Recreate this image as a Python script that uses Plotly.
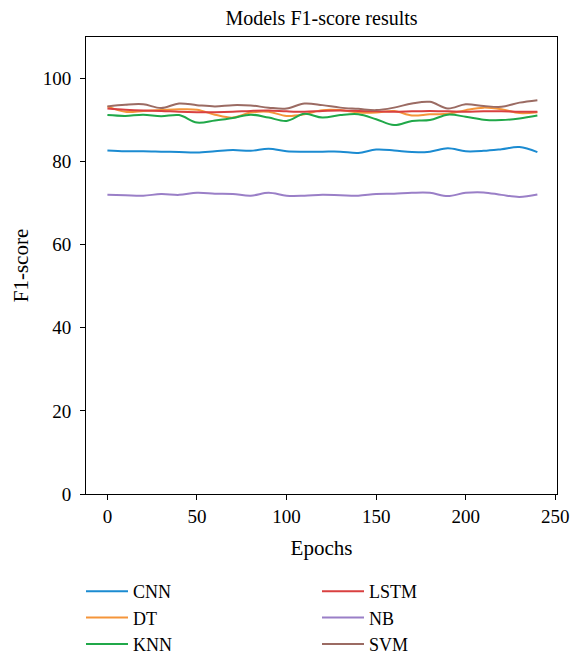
import plotly.graph_objects as go

# Epochs at which the F1-scores are recorded
epochs = [0, 10, 20, 30, 40, 50, 60, 70, 80, 90, 100, 110, 120,
          130, 140, 150, 160, 170, 180, 190, 200, 210, 220, 230, 240]

cnn = [82.7, 82.5, 82.5, 82.4, 82.3, 82.2, 82.5, 82.8, 82.6, 83.1, 82.5, 82.4, 82.4,
       82.4, 82.1, 82.9, 82.7, 82.3, 82.4, 83.2, 82.5, 82.6, 83.0, 83.5, 82.3]
dt = [93.3, 92.0, 92.2, 92.4, 92.6, 92.5, 91.3, 90.6, 91.8, 92.0, 91.0, 91.4, 92.4,
      92.4, 91.8, 91.8, 92.2, 91.1, 91.4, 91.5, 92.4, 93.0, 92.6, 91.7, 91.9]
knn = [91.2, 91.0, 91.3, 90.9, 91.2, 89.4, 89.9, 90.5, 91.3, 90.6, 89.8, 91.5, 90.6,
       91.2, 91.4, 90.2, 88.8, 89.8, 90.0, 91.3, 90.8, 90.1, 90.0, 90.4, 91.1]
lstm = [92.8, 92.5, 92.3, 92.2, 92.0, 91.9, 91.9, 92.0, 92.2, 92.3, 92.1, 92.0, 92.2,
        92.3, 92.2, 92.1, 92.0, 92.1, 92.2, 92.1, 92.0, 92.1, 92.1, 92.0, 92.0]
nb = [72.0, 71.9, 71.8, 72.2, 72.0, 72.5, 72.3, 72.2, 71.8, 72.5, 71.8, 71.8, 72.0,
      71.9, 71.8, 72.2, 72.3, 72.5, 72.5, 71.7, 72.5, 72.6, 72.0, 71.5, 72.1]
svm = [93.3, 93.7, 93.8, 92.9, 94.0, 93.6, 93.3, 93.6, 93.5, 93.0, 92.8, 94.0, 93.6,
       93.0, 92.7, 92.4, 93.0, 94.0, 94.4, 92.8, 93.8, 93.4, 93.2, 94.2, 94.8]

model_names = ["CNN", "DT", "KNN", "LSTM", "NB", "SVM"]
model_scores = [cnn, dt, knn, lstm, nb, svm]
model_colors = ["#1b8bd1", "#f5953a", "#20a849", "#d94040", "#9a7fc7", "#9b6b63"]
# legend laid out in two columns: CNN/DT/KNN left, LSTM/NB/SVM right
legend_ranks = [1, 3, 5, 2, 4, 6]

SERIF = "Liberation Serif, Times New Roman, serif"
W, H = 571, 655
PLOT_TOP, PLOT_BOTTOM, PLOT_LEFT, PLOT_RIGHT = 37, 494, 86, 557

fig = go.Figure()
for name, scores, color, rank in zip(model_names, model_scores, model_colors, legend_ranks):
    fig.add_trace(go.Scatter(
        x=epochs, y=scores, name=name, mode="lines",
        line=dict(color=color, width=2, shape="spline", smoothing=1.0),
        legendrank=rank,
    ))

axis_common = dict(
    showgrid=False, zeroline=False, showline=True, linecolor="black", linewidth=1,
    mirror=True, ticks="outside", ticklen=5, tickcolor="black", tickwidth=1,
    tickfont=dict(family=SERIF, size=19, color="black"),
)

plot_h = PLOT_BOTTOM - PLOT_TOP
plot_w = PLOT_RIGHT - PLOT_LEFT

fig.update_layout(
    width=W, height=H,
    margin=dict(l=PLOT_LEFT, r=W - PLOT_RIGHT, t=PLOT_TOP, b=H - PLOT_BOTTOM,
                autoexpand=False),
    paper_bgcolor="white", plot_bgcolor="white",
    title=dict(text="Models F1-score results", x=0.5, xref="paper", xanchor="center",
               y=1 - 18 / H, yanchor="middle",
               font=dict(family=SERIF, size=20, color="black")),
    xaxis=dict(range=[-11.95, 250.95], tick0=0, dtick=50, ticklabelstandoff=0,
               title=dict(text="Epochs", font=dict(family=SERIF, size=21, color="black"),
                          standoff=14),
               **axis_common),
    yaxis=dict(range=[0, 110], tick0=0, dtick=20, ticklabelstandoff=5,
               title=dict(text="F1-score", font=dict(family=SERIF, size=21, color="black"),
                          standoff=8),
               **axis_common),
    showlegend=True,
    legend=dict(orientation="h", traceorder="normal",
                x=(81 - PLOT_LEFT) / plot_w, xanchor="left",
                y=(PLOT_BOTTOM - 573) / plot_h, yanchor="top",
                entrywidth=179, itemwidth=42,
                font=dict(family=SERIF, size=18, color="black"),
                bgcolor="rgba(0,0,0,0)"),
)

fig.write_html("out.html")
